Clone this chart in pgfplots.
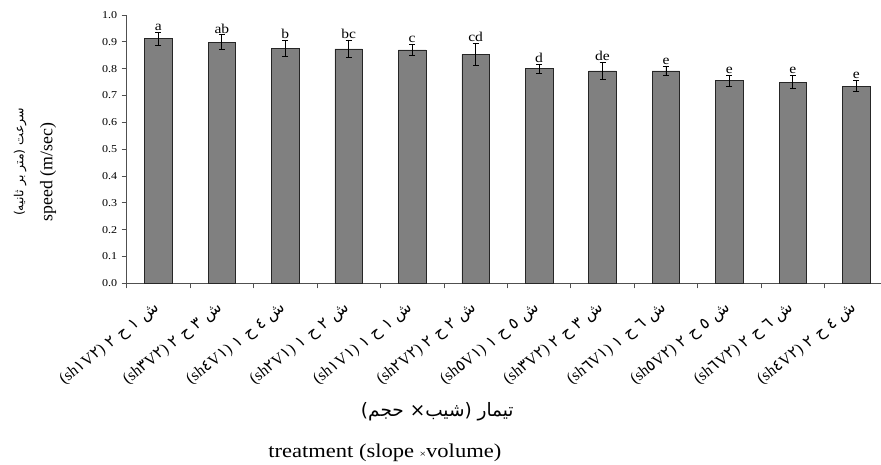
\documentclass[border=0pt]{standalone}
\usepackage{fontspec}
\usepackage{pgfplots}
\usepackage{pgfplotstable}
\pgfplotsset{compat=1.18}
\setmainfont{Liberation Serif}
\newfontfamily\latinfont{Liberation Serif}
\newfontfamily\sfont[FakeStretch=1.15]{Liberation Serif}
\newfontfamily\arabicfont[Script=Arabic]{DejaVu Sans}
\TeXXeTstate=1
\definecolor{bargray}{RGB}{128,128,128}
\definecolor{axgray}{RGB}{80,80,80}
\newcommand{\tl}[2]{\arabicfont\beginR ش #1 ح #2 \beginL{\latinfont(sh}#1{\latinfont V}#2{\latinfont)}\endL\endR}

\pgfplotstableread{
x y e lab
0 0.912 0.024 a
1 0.899 0.027 ab
2 0.876 0.029 b
3 0.874 0.033 bc
4 0.870 0.021 c
5 0.853 0.040 cd
6 0.800 0.017 d
7 0.792 0.032 de
8 0.792 0.018 e
9 0.755 0.020 e
10 0.750 0.025 e
11 0.735 0.021 e
}\speeddata

\begin{document}
\begin{tikzpicture}
\begin{axis}[
  scale only axis,
  width=761.3pt, height=268.3pt,
  xmin=-0.5, xmax=11.5, ymin=0, ymax=1,
  axis x line=bottom, axis y line=left,
  axis line style={-, axgray, line width=0.8pt},
  tick style={axgray, line width=0.8pt},
  tick align=outside,
  major tick length=5pt,
  ytick={0,0.1,0.2,0.3,0.4,0.5,0.6,0.7,0.8,0.9,1.0},
  /pgf/number format/assume math mode=true,
  yticklabel style={/pgf/number format/fixed, /pgf/number format/fixed zerofill, /pgf/number format/precision=1, font=\sfont\fontsize{10.5}{12}\selectfont, xshift=-1pt},
  xtick={-0.5,0.5,1.5,2.5,3.5,4.5,5.5,6.5,7.5,8.5,9.5,10.5,11.5},
  xticklabels={},
  extra x ticks={0,1,2,3,4,5,6,7,8,9,10,11},
  extra x tick labels={\tl{١}{٢},\tl{٣}{٢},\tl{٤}{١},\tl{٢}{١},\tl{١}{١},\tl{٢}{٢},\tl{٥}{١},\tl{٣}{٢},\tl{٦}{١},\tl{٥}{٢},\tl{٦}{٢},\tl{٤}{٢}},
  extra x tick style={major tick length=0pt, xticklabel style={rotate=38, anchor=east, font=\fontsize{16}{18}\selectfont, xshift=-12pt, yshift=-18pt}},
  clip=false,
]
\addplot[ybar, bar width=27.5pt, bar shift=0pt, fill=bargray, draw=black!85, line width=0.6pt,
  error bars/.cd, y dir=both, y explicit,
  error bar style={black, line width=0.8pt},
  error mark options={rotate=90, black, mark size=3pt, line width=0.8pt}]
  table[x=x, y=y, y error=e] {\speeddata};
\addplot[only marks, mark=*, mark size=0pt, mark options={draw=none, fill=none},
  nodes near coords, point meta=explicit symbolic,
  every node near coord/.style={anchor=south, inner sep=1.5pt, font=\sfont\fontsize{13.5}{14}\selectfont, black}]
  table[x=x, y expr=\thisrow{y}+\thisrow{e}, meta=lab] {\speeddata};
\coordinate (O) at (rel axis cs:0,0);
\node[rotate=90, inner sep=0pt, font=\fontsize{17.8}{19}\selectfont] at (rel axis cs:-0.1034,0.415) {speed (m/sec)};
\node[rotate=90, inner sep=0pt, font=\arabicfont\fontsize{12.5}{14}\selectfont] at (rel axis cs:-0.140,0.452) {\beginR سرعت (متر بر ثانیه)\endR};
\node[inner sep=0pt, font=\arabicfont\fontsize{18.5}{20}\selectfont] at (rel axis cs:0.408,-0.478) {\beginR تیمار (شیب× حجم)\endR};
\node[inner sep=0pt, font=\sfont\fontsize{19.6}{21}\selectfont] at (rel axis cs:0.339,-0.6325) {treatment (slope {\fontsize{10}{10}\selectfont ×}volume)};
\end{axis}
\pgfresetboundingbox
\path[use as bounding box] ([xshift=-126.7pt, yshift=-180.7pt]O) rectangle ++(881pt,464pt);
\end{tikzpicture}
\end{document}
